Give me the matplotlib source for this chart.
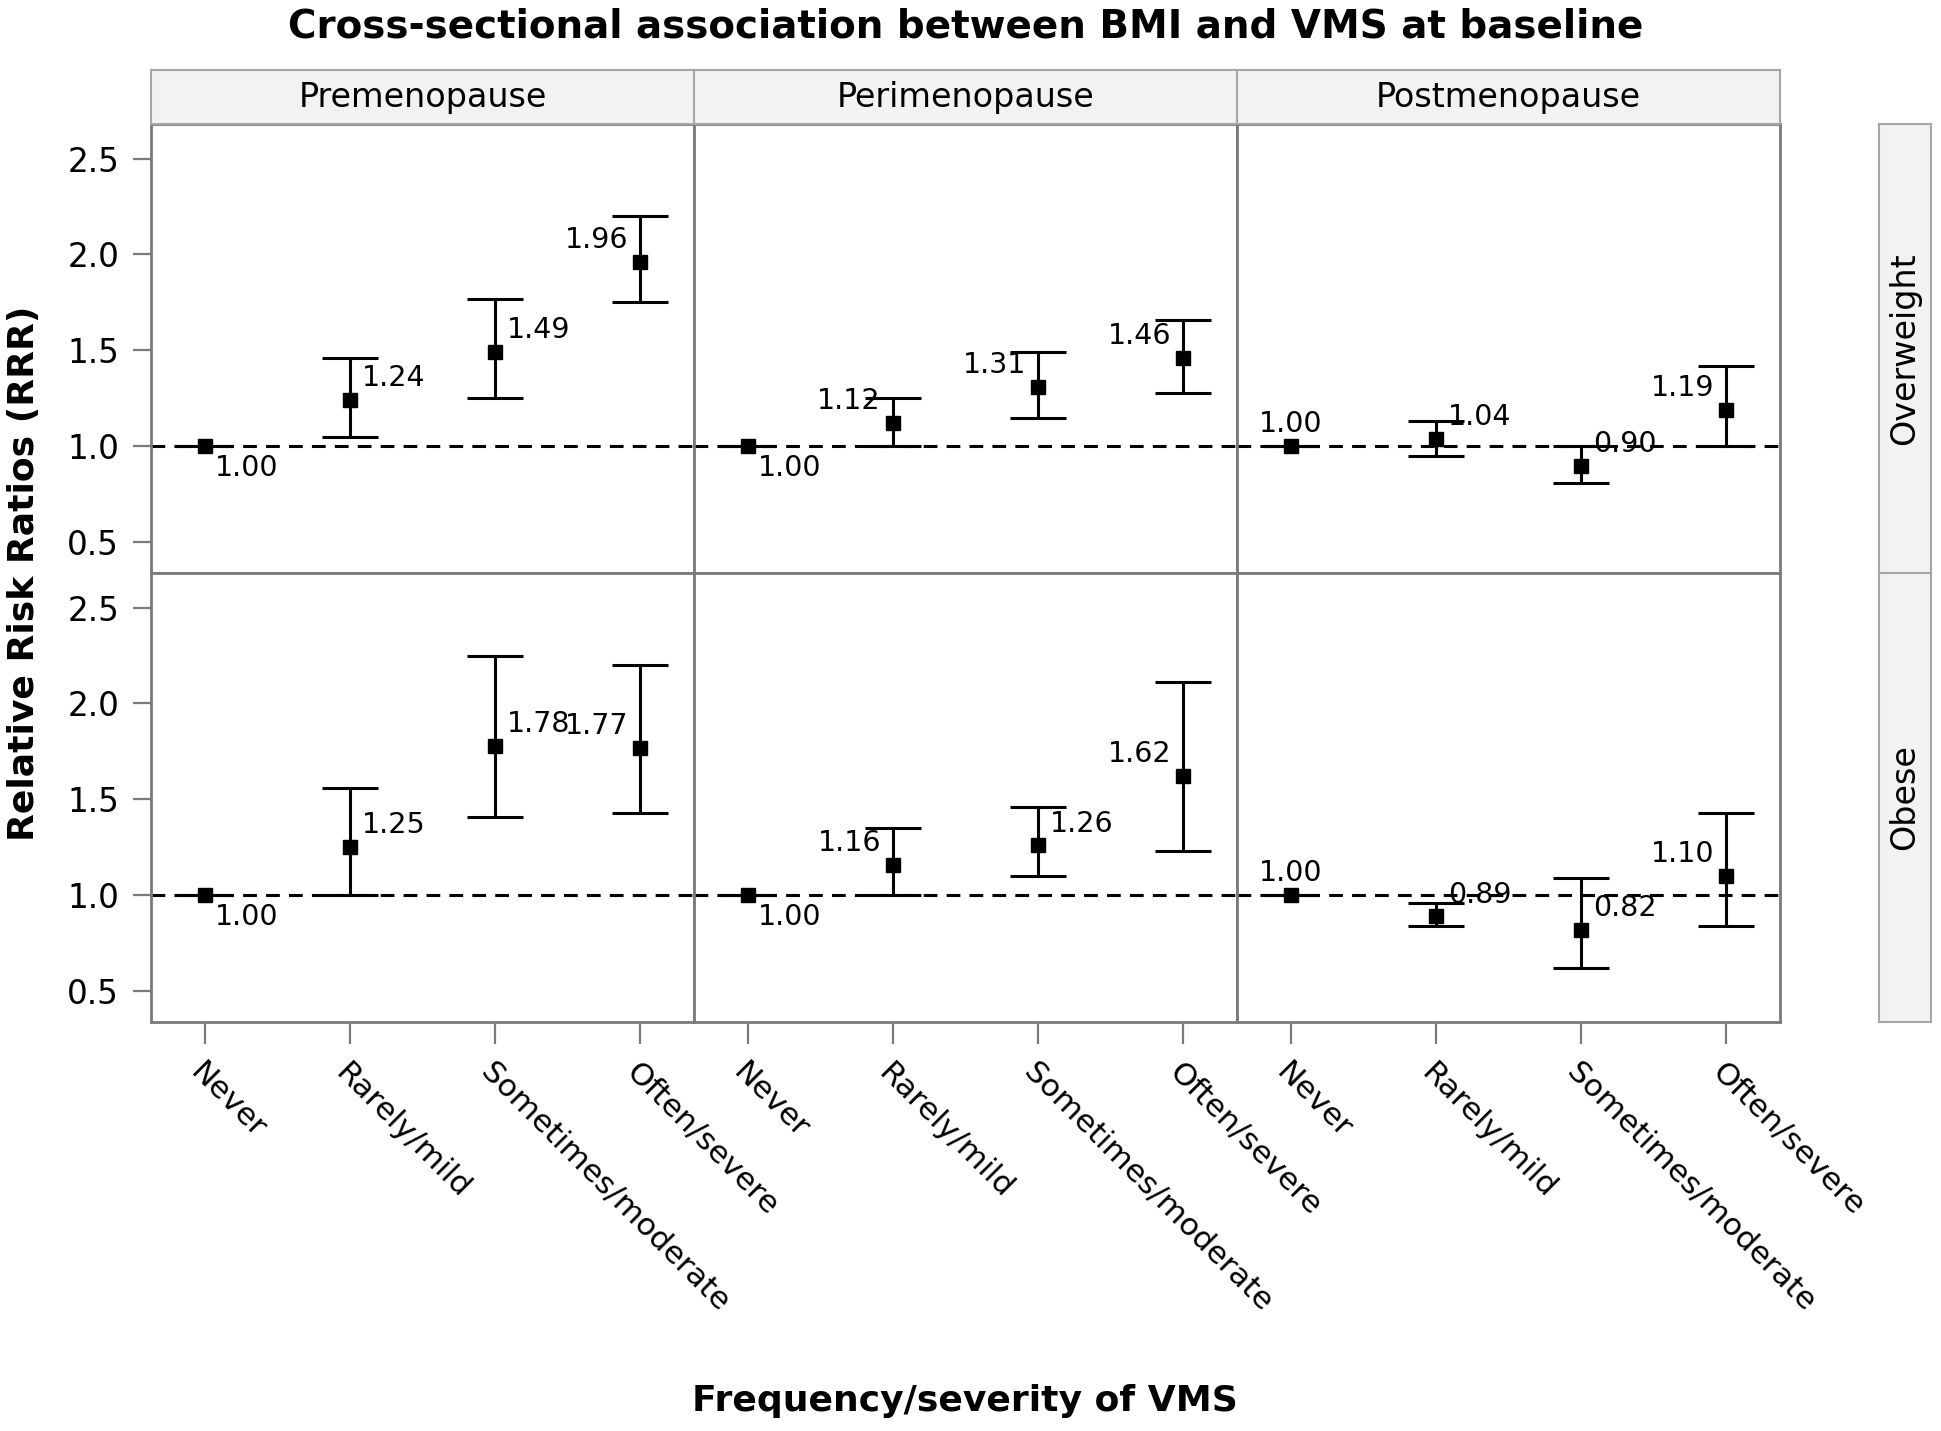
import numpy as np
import matplotlib
matplotlib.use("Agg")
import matplotlib.pyplot as plt
from matplotlib.patches import Rectangle

# categories / panels
categories = ['Never', 'Rarely/mild', 'Sometimes/moderate', 'Often/severe']
stages = ['Premenopause', 'Perimenopause', 'Postmenopause']
bmi_groups = ['Overweight', 'Obese']

# Overweight row: RRR with lower / upper CI
ow_pre_rrr = [1.00, 1.24, 1.49, 1.96]
ow_pre_lo = [1.00, 1.05, 1.25, 1.75]
ow_pre_hi = [1.00, 1.46, 1.77, 2.20]
ow_peri_rrr = [1.00, 1.12, 1.31, 1.46]
ow_peri_lo = [1.00, 1.00, 1.15, 1.28]
ow_peri_hi = [1.00, 1.25, 1.49, 1.66]
ow_post_rrr = [1.00, 1.04, 0.90, 1.19]
ow_post_lo = [1.00, 0.95, 0.81, 1.00]
ow_post_hi = [1.00, 1.13, 1.00, 1.42]

# Obese row
ob_pre_rrr = [1.00, 1.25, 1.78, 1.77]
ob_pre_lo = [1.00, 1.00, 1.41, 1.43]
ob_pre_hi = [1.00, 1.56, 2.25, 2.20]
ob_peri_rrr = [1.00, 1.16, 1.26, 1.62]
ob_peri_lo = [1.00, 1.00, 1.10, 1.23]
ob_peri_hi = [1.00, 1.35, 1.46, 2.11]
ob_post_rrr = [1.00, 0.89, 0.82, 1.10]
ob_post_lo = [1.00, 0.84, 0.62, 0.84]
ob_post_hi = [1.00, 0.96, 1.09, 1.43]

# where each data label sits relative to its point
label_pos = [
    [['lr', 'ur', 'ur', 'ul'], ['lr', 'ul', 'ul', 'ul'], ['u', 'ur', 'ur', 'ul']],
    [['lr', 'ur', 'ur', 'ul'], ['lr', 'ul', 'ur', 'ul'], ['u', 'ur', 'ur', 'ul']],
]

panels = [
    [(ow_pre_rrr, ow_pre_lo, ow_pre_hi), (ow_peri_rrr, ow_peri_lo, ow_peri_hi),
     (ow_post_rrr, ow_post_lo, ow_post_hi)],
    [(ob_pre_rrr, ob_pre_lo, ob_pre_hi), (ob_peri_rrr, ob_peri_lo, ob_peri_hi),
     (ob_post_rrr, ob_post_lo, ob_post_hi)],
]

W, H = 1941, 1431
fig = plt.figure(figsize=(W / 100, H / 100), dpi=100)

def fx(px):
    return px / W

def fy(py):
    return 1 - py / H

frame = '#7a7a7a'
col_left = [151, 694, 1237]
col_w = 543
row_top = [124, 573]
row_h = 449

offsets = {'ur': ((8.6, 15.8), 'left'), 'ul': ((-8.6, 15.8), 'right'),
           'lr': ((7.2, -15.8), 'left'), 'u': ((0, 15.8), 'center')}

x = np.arange(len(categories))
for r in range(2):
    for c in range(3):
        ax = fig.add_axes([fx(col_left[c]), fy(row_top[r] + row_h), col_w / W, row_h / H])
        rrr, lo, hi = (np.array(a) for a in panels[r][c])
        ax.axhline(1.0, color='black', ls=(0, (4.5, 3)), lw=2.2, zorder=2)
        ax.errorbar(x, rrr, yerr=[rrr - lo, hi - rrr], fmt='s', color='black',
                    ms=10.5, capsize=20, elinewidth=2.2, capthick=2.2, zorder=3)
        for i, v in enumerate(rrr):
            off, ha = offsets[label_pos[r][c][i]]
            ax.annotate(f'{v:.2f}', (x[i], v), xytext=off, textcoords='offset points',
                        ha=ha, va='center', fontsize=20.5)
        ax.set_xlim(-0.37, 3.37)
        ax.set_ylim(0.34, 2.68)
        for s in ax.spines.values():
            s.set_color(frame)
            s.set_linewidth(2)
        ax.tick_params(color=frame, width=1.6)
        if c == 0:
            ax.set_yticks([0.5, 1.0, 1.5, 2.0, 2.5])
            ax.set_yticklabels(['0.5', '1.0', '1.5', '2.0', '2.5'])
            ax.tick_params(axis='y', length=13, pad=10, labelsize=23.5)
        else:
            ax.set_yticks([])
        ax.set_xticks(x)
        if r == 1:
            ax.set_xticklabels(categories, rotation=-45, ha='left', va='top',
                               rotation_mode='anchor', fontsize=22.5)
            ax.tick_params(axis='x', length=16, pad=10)
        else:
            ax.tick_params(axis='x', length=0, labelbottom=False)

# column strips
for c in range(3):
    fig.add_artist(Rectangle((fx(col_left[c]), fy(124)), col_w / W, 54 / H,
                             transform=fig.transFigure, fc='#f2f2f2', ec='#a6a6a6', lw=1.5))
    fig.text(fx(col_left[c] + col_w / 2), fy(97), stages[c], ha='center', va='center',
             fontsize=24)

# row strips
for r in range(2):
    fig.add_artist(Rectangle((fx(1879), fy(row_top[r] + row_h)), 52 / W, row_h / H,
                             transform=fig.transFigure, fc='#f2f2f2', ec='#a6a6a6', lw=1.5))
    fig.text(fx(1905), fy(row_top[r] + row_h / 2), bmi_groups[r], ha='center', va='center',
             rotation=90, fontsize=24)

fig.text(fx(966), fy(26), 'Cross-sectional association between BMI and VMS at baseline',
         ha='center', va='center', fontsize=28, fontweight='bold')
fig.text(fx(24), fy(573), 'Relative Risk Ratios (RRR)', ha='center', va='center',
         rotation=90, fontsize=26, fontweight='bold')
fig.text(fx(965), fy(1401), 'Frequency/severity of VMS', ha='center', va='center',
         fontsize=26, fontweight='bold')

fig.savefig('out.png', dpi=100)
